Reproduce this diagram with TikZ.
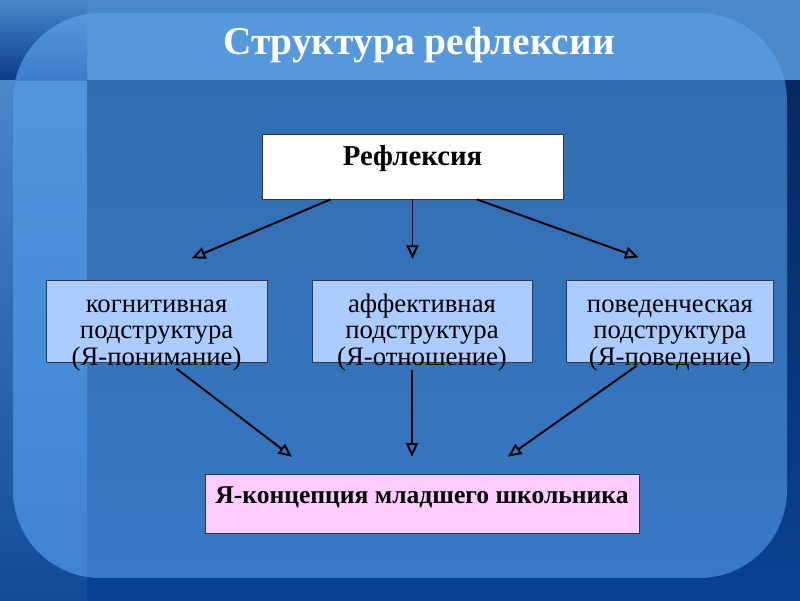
\documentclass[tikz,border=0pt]{standalone}
\usepackage{fontspec}
\setmainfont{Liberation Serif}
\usepackage{xcolor}
\usepackage{tikz}
\usetikzlibrary{arrows.meta, positioning}
\definecolor{bgtop}{HTML}{05255A}
\definecolor{bgbot}{HTML}{0A4192}
\definecolor{bandout}{HTML}{4A88C8}
\definecolor{cornerdark}{HTML}{0A3A8A}
\definecolor{stripbot}{HTML}{124A98}
\definecolor{panelA}{HTML}{316DB1}
\definecolor{panelB}{HTML}{3779C5}
\definecolor{paneltop}{HTML}{5598DC}
\definecolor{cornerlight}{HTML}{3C7DCA}
\definecolor{colA}{HTML}{5096DE}
\definecolor{colB}{HTML}{3F84D1}
\definecolor{subfill}{HTML}{AACCFF}
\definecolor{selffill}{HTML}{FFCCFF}
\definecolor{frame}{HTML}{303848}

\begin{document}
\begin{tikzpicture}[
  x=0.025cm, y=-0.025cm,
  >={Triangle[open, length=3.4mm, width=3mm, line width=1.4pt]},
  arr/.style={->, line width=1.4pt, draw=black},
  head/.style={draw=frame, line width=0.6pt, fill=white, inner sep=0pt,
               minimum width=7.525cm, minimum height=1.625cm,
               font=\fontsize{20.5}{22}\selectfont\bfseries},
  sub/.style={draw=frame, line width=0.6pt, fill=subfill, inner sep=0pt,
              minimum height=2.05cm, font=\fontsize{19}{18.7}\selectfont},
  self/.style={draw=frame, line width=0.6pt, fill=selffill, inner sep=0pt,
               minimum width=10.85cm, minimum height=1.475cm,
               font=\fontsize{18.2}{20}\selectfont\bfseries}
]
% slide background
\shade[top color=bgtop, bottom color=bgbot] (0,0) rectangle (800,600);
\fill[bandout] (87,0) rectangle (800,80);
\shade[top color=bandout, bottom color=cornerdark] (0,0) rectangle (87,80);
\shade[top color=bandout, bottom color=stripbot] (0,80) rectangle (87,600);
\begin{scope}
  \clip[rounded corners=2.2cm] (13,13) rectangle (787,578);
  \shade[top color=panelA, bottom color=panelB] (13,80) rectangle (787,578);
  \fill[paneltop] (13,13) rectangle (787,80);
  \shade[top color=colA, bottom color=colB] (13,80) rectangle (87,578);
  \shade[top color=paneltop, bottom color=cornerlight] (13,13) rectangle (87,80);
\end{scope}

\node[anchor=base, text=white, font=\fontsize{28}{30}\selectfont\bfseries] (title) at (419,54) {Структура рефлексии};

\node[head] (refl) at (412.5,166.5) {\raisebox{0.2cm}[\height][\depth]{Рефлексия}};
\node[sub, minimum width=5.5cm] (aff) at (422,321.5)
  {\raisebox{-0.3cm}[\height][\depth]{\begin{tabular}{@{}c@{}}аффективная\\подструктура\\(Я-отношение)\end{tabular}}};
\node[sub, minimum width=5.525cm, left=1.1cm of aff] (cog)
  {\raisebox{-0.3cm}[\height][\depth]{\begin{tabular}{@{}c@{}}когнитивная\\подструктура\\(Я-понимание)\end{tabular}}};
\node[sub, minimum width=5.15cm, right=0.85cm of aff] (beh)
  {\raisebox{-0.3cm}[\height][\depth]{\begin{tabular}{@{}c@{}}поведенческая\\подструктура\\(Я-поведение)\end{tabular}}};
\node[self] (self) at (422,503.5) {\raisebox{0.15cm}[\height][\depth]{Я-концепция младшего школьника}};

% arrows
\draw[arr, shorten >=1.39cm] ([xshift=-2.05cm]refl.south) -- ([xshift=-0.4cm]cog.north);
\draw[arr, shorten >=0.53cm] (refl.south) -- (refl.south |- aff.north);
\draw[arr, shorten >=1.68cm] ([xshift=1.61cm]refl.south) -- ([xshift=0.8cm]beh.north);
\draw[arr, shorten <=0.24cm, shorten >=0.69cm] ([xshift=0.31cm]cog.south) -- ([xshift=-2.7cm]self.north);
\draw[arr, shorten <=0.17cm, shorten >=0.42cm] ([xshift=-0.25cm]aff.south) -- ([xshift=-0.25cm]self.north);
\draw[arr, shorten <=0.13cm, shorten >=0.73cm] ([xshift=-0.73cm]beh.south) -- ([xshift=1.55cm]self.north);
\end{tikzpicture}
\end{document}
